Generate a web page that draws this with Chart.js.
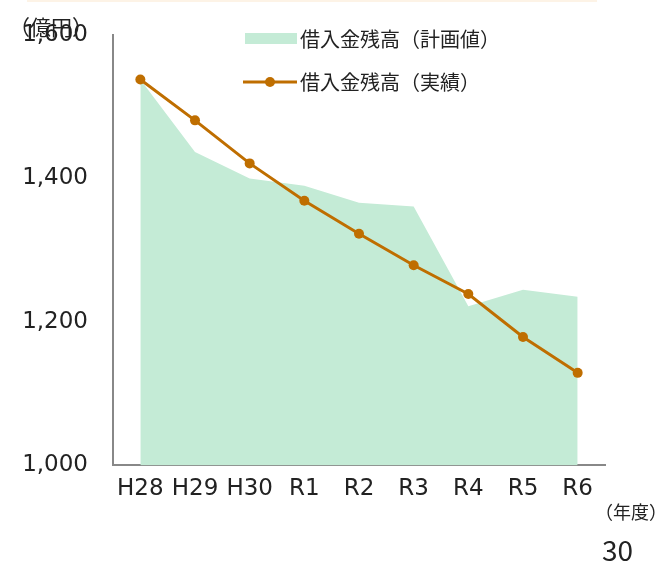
<!DOCTYPE html>
<html>
<head>
<meta charset="utf-8">
<script src="https://cdn.jsdelivr.net/npm/chart.js@4"></script>
<style>
  html, body { margin: 0; padding: 0; background: #fff; }
  #wrap { position: relative; width: 662px; height: 561px; }
  #band { position: absolute; left: 27px; top: 0; width: 570px; height: 2px; background: #fdf3e6; }
  canvas { display: block; }
</style>
</head>
<body>
<div id="wrap">
  <div id="band"></div>
  <canvas id="myChart" width="662" height="561"></canvas>
</div>
<script>
'use strict';

let years = ['H28', 'H29', 'H30', 'R1', 'R2', 'R3', 'R4', 'R5', 'R6'];
let planVals = [1538, 1437, 1400, 1390, 1366, 1361, 1222, 1245, 1235];
let actualVals = [1538, 1481, 1421, 1369, 1323, 1279, 1239, 1179, 1129];
let yTicks = [1000, 1200, 1400, 1600];

let planName = '借入金残高（計画値）';
let actualName = '借入金残高（実績）';
let fillColor = '#c4ebd6';
let lineColor = '#bf6e00';
let jpFont = '"Noto Sans CJK JP", "Noto Sans", sans-serif';
let numFont = '"DejaVu Sans", sans-serif';

// legend + loose labels drawn by hand
let extras = {
    id: 'extras',
    afterDraw(chart) {
        let c = chart.ctx;
        c.save();
        c.font = '20px ' + jpFont;
        c.textBaseline = 'middle';
        c.textAlign = 'left';

        // legend
        c.fillStyle = fillColor;
        c.fillRect(245, 33, 52, 11);
        c.fillStyle = '#222';
        c.fillText(planName, 300, 39);

        c.strokeStyle = lineColor;
        c.lineWidth = 3;
        c.beginPath();
        c.moveTo(243, 82);
        c.lineTo(297, 82);
        c.stroke();
        c.fillStyle = lineColor;
        c.beginPath();
        c.arc(270, 82, 5, 0, Math.PI * 2);
        c.fill();
        c.fillStyle = '#222';
        c.fillText(actualName, 300, 82);

        // units
        c.font = '21px ' + jpFont;
        c.fillText('（億円）', 9, 27);
        c.font = '18px ' + jpFont;
        c.fillText('（年度）', 595, 512);
        c.font = '28px ' + jpFont;
        c.fillText('30', 602, 550);
        c.restore();
    }
};

let ctx = document.getElementById('myChart').getContext('2d');

let myChart = new Chart(ctx, {
    type: 'line',
    data: {
        labels: years,
        datasets: [{
            label: actualName,
            data: actualVals,
            borderColor: lineColor,
            backgroundColor: lineColor,
            borderWidth: 3,
            pointRadius: 5,
            pointBackgroundColor: lineColor,
            pointBorderWidth: 0,
            fill: false,
            tension: 0,
            order: 1
        }, {
            label: planName,
            data: planVals,
            borderWidth: 0,
            borderColor: fillColor,
            backgroundColor: fillColor,
            pointRadius: 0,
            fill: 'start',
            tension: 0,
            order: 2
        }]
    },
    options: {
        responsive: false,
        animation: false,
        layout: {
            padding: { left: 0, right: 57, top: 35, bottom: 48 }
        },
        plugins: {
            legend: { display: false },
            tooltip: { enabled: false }
        },
        scales: {
            x: {
                offset: true,
                grid: { display: false, drawTicks: false },
                border: { display: true, color: '#888', width: 2 },
                ticks: {
                    color: '#222',
                    padding: 10,
                    maxRotation: 0,
                    autoSkip: false,
                    font: { family: numFont, size: 23 }
                }
            },
            y: {
                min: 1000,
                max: 1600,
                afterBuildTicks(axis) {
                    axis.ticks = yTicks.map(v => ({ value: v }));
                },
                afterFit(axis) {
                    axis.width = 113;
                    axis.paddingTop = 0;
                },
                grid: { display: false, drawTicks: false },
                border: { display: true, color: '#888', width: 2 },
                ticks: {
                    color: '#222',
                    padding: 25,
                    font: { family: numFont, size: 23 },
                    callback: v => v.toLocaleString('en-US')
                }
            }
        }
    },
    plugins: [extras]
});
</script>
</body>
</html>
